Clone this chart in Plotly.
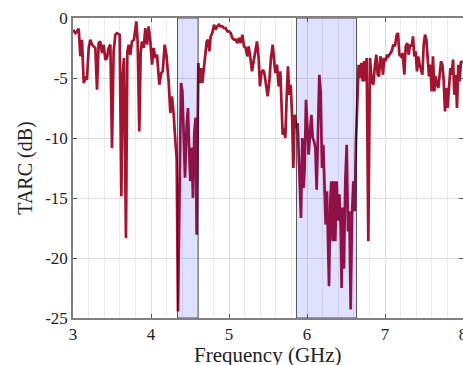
import plotly.graph_objects as go

freq = [
    3.000, 3.030, 3.051, 3.073, 3.094, 3.115, 3.137, 3.158, 3.179, 3.201,
    3.222, 3.244, 3.265, 3.286, 3.308, 3.329, 3.350, 3.372, 3.393, 3.415,
    3.436, 3.457, 3.479, 3.500, 3.521, 3.543, 3.564, 3.585, 3.598, 3.620,
    3.637, 3.654, 3.679, 3.697, 3.714, 3.735, 3.756, 3.782, 3.799, 3.812,
    3.829, 3.850, 3.868, 3.885, 3.906, 3.927, 3.949, 3.970, 3.991, 4.013,
    4.034, 4.056, 4.077, 4.107, 4.132, 4.150, 4.175, 4.197, 4.226, 4.248,
    4.269, 4.291, 4.312, 4.325,
    4.329, 4.346, 4.359, 4.385, 4.402, 4.419, 4.436, 4.457, 4.474, 4.491,
    4.504, 4.521, 4.538, 4.556, 4.573, 4.585, 4.598, 4.607, 4.624, 4.641,
    4.658, 4.675, 4.692, 4.714, 4.731, 4.748, 4.765, 4.786, 4.808, 4.829,
    4.850, 4.872, 4.893, 4.915, 4.936, 4.957, 4.979, 5.000, 5.021, 5.043,
    5.064, 5.086, 5.107, 5.128, 5.150, 5.171, 5.192, 5.214, 5.235, 5.252,
    5.274, 5.295, 5.316, 5.338, 5.359, 5.380, 5.397, 5.415, 5.436, 5.453,
    5.474, 5.496, 5.517, 5.538, 5.560,
    5.573, 5.594, 5.615, 5.637, 5.658, 5.671, 5.688, 5.705, 5.722, 5.739,
    5.756, 5.774, 5.791, 5.808, 5.825, 5.842, 5.863, 5.880, 5.897, 5.910,
    5.923, 5.940, 5.957, 5.970, 5.987, 6.004, 6.021, 6.038, 6.056, 6.073,
    6.090, 6.107, 6.124, 6.141, 6.158, 6.175, 6.192, 6.209, 6.226, 6.239,
    6.256, 6.269, 6.282, 6.299, 6.312, 6.329, 6.346, 6.363, 6.380, 6.397,
    6.415, 6.432, 6.444, 6.457, 6.474, 6.491, 6.509, 6.526, 6.543, 6.560,
    6.577, 6.594, 6.611, 6.628, 6.645, 6.662, 6.679, 6.697, 6.714, 6.731,
    6.748, 6.765,
    6.786, 6.808, 6.829, 6.850, 6.872, 6.889, 6.906, 6.923, 6.940, 6.957,
    6.974, 6.991, 7.008, 7.026, 7.043, 7.064, 7.085, 7.107, 7.128, 7.150,
    7.167, 7.184, 7.205, 7.226, 7.248, 7.265, 7.286, 7.303, 7.321, 7.342,
    7.359, 7.376, 7.393, 7.410, 7.427, 7.444, 7.462, 7.479, 7.496, 7.513,
    7.530, 7.547, 7.564, 7.581, 7.598, 7.615, 7.632, 7.650, 7.667, 7.684,
    7.701, 7.718, 7.735, 7.752, 7.769, 7.786, 7.803, 7.821, 7.838, 7.855,
    7.872, 7.889, 7.906, 7.923, 7.940, 7.957, 7.974, 7.996,
]

tarc_db = [
    -0.97, -1.26, -1.11, -0.89, -3.19, -1.81, -5.42, -5.00, -5.14, -2.50,
    -1.81, -2.22, -2.36, -2.50, -5.98, -2.09, -1.95, -2.92, -2.22, -3.48,
    -3.33, -2.50, -2.22, -10.84, -2.78, -1.39, -1.26, -1.39, -1.39, -14.86,
    -4.70, -3.33, -18.34, -2.78, -2.22, -3.06, -1.95, -1.81, -0.84, -0.28,
    -1.95, -9.45, -2.78, -1.95, -2.50, -0.84, -2.22, -0.70, -1.95, -3.89,
    -2.50, -3.33, -3.06, -5.56, -4.59, -4.45, -2.22, -3.06, -5.28, -7.92,
    -6.53, -8.06, -10.28, -11.53,
    -11.67, -24.45, -16.40, -5.42, -6.10, -10.30, -13.30, -8.90, -7.50, -11.40,
    -13.60, -10.80, -15.00, -9.45, -8.30, -18.06, -11.40, -3.75, -5.42, -4.17,
    -5.42, -4.45, -3.06, -1.95, -1.81, -2.78, -1.53, -1.25, -0.56, -0.97,
    -0.70, -0.56, -0.70, -0.70, -0.84, -0.84, -1.11, -1.11, -1.25, -1.67,
    -1.81, -1.81, -2.09, -1.67, -2.09, -1.39, -2.36, -2.50, -3.20, -2.36,
    -3.33, -4.45, -3.61, -2.78, -1.95, -3.33, -5.70, -4.59, -4.31, -4.59,
    -5.56, -6.53, -5.28, -3.33, -2.22,
    -3.33, -4.59, -3.89, -5.70, -4.45, -6.95, -9.73, -9.17, -10.00, -6.67,
    -4.03, -6.40, -5.56, -8.06, -12.50, -8.06, -9.17, -8.75, -11.67, -13.06,
    -16.67, -10.00, -14.17, -12.50, -6.81, -8.90, -11.39, -9.73, -8.06, -10.00,
    -10.28, -10.84, -14.31, -9.45, -4.73, -6.12, -12.50, -10.56, -14.17, -17.20,
    -14.45, -18.90, -22.36, -15.28, -13.60, -18.60, -13.60, -18.60, -13.60, -16.90,
    -14.70, -17.50, -22.50, -15.80, -20.90, -13.60, -10.56, -17.80, -16.10, -24.30,
    -16.40, -13.60, -16.10, -10.28, -6.67, -3.89, -5.00, -3.75, -5.28, -3.60,
    -5.28, -3.33,
    -18.60, -3.33, -5.28, -5.56, -3.89, -3.06, -4.73, -4.86, -3.20, -3.47,
    -4.73, -3.33, -3.61, -3.06, -3.20, -2.92, -2.78, -2.22, -2.36, -1.39,
    -1.25, -3.06, -3.20, -2.92, -4.73, -2.36, -2.09, -3.06, -2.22, -2.36,
    -1.53, -3.20, -2.78, -4.45, -3.20, -3.89, -4.31, -4.73, -2.22, -1.39,
    -1.81, -3.61, -4.86, -3.89, -6.12, -3.20, -6.12, -4.86, -5.56, -5.83,
    -4.59, -3.61, -3.89, -5.14, -7.78, -5.83, -7.50, -5.28, -4.17, -4.73,
    -3.47, -6.40, -4.73, -7.50, -3.89, -5.28, -3.61, -3.75,
]

band_start = [4.34, 5.865]
band_end = [4.605, 6.635]

x_ticks = [3, 4, 5, 6, 7, 8]
y_ticks = [-25, -20, -15, -10, -5, 0]
y_tick_text = ["-25", "-20", "-15", "-10", "-5", "0"]

x_title = "Frequency (GHz)"
y_title = "TARC (dB)"

line_color = "#A2142F"
font_family = "Liberation Serif"

fig = go.Figure()
fig.add_trace(go.Scatter(
    x=freq, y=tarc_db, mode="lines",
    line=dict(color=line_color, width=2.7),
    showlegend=False,
))

for s, e in zip(band_start, band_end):
    fig.add_shape(
        type="rect", xref="x", yref="y",
        x0=s, x1=e, y0=-25, y1=0,
        fillcolor="rgba(0,0,255,0.12)",
        line=dict(color="rgba(0,0,0,0.65)", width=1),
        layer="above",
    )

axis_common = dict(
    showline=True, linecolor="#808080", linewidth=1.5,
    mirror="ticks", ticks="inside", ticklen=4, tickcolor="#555555",
    tickwidth=1, showgrid=True, gridcolor="#dedede", gridwidth=1,
    zeroline=False, automargin=False, ticklabeloverflow="allow",
    tickfont=dict(family=font_family, size=17, color="#222222"),
)

fig.update_xaxes(
    range=[3, 8], tickvals=x_ticks,
    minor=dict(dtick=0.2, showgrid=True, gridcolor="#ececec", gridwidth=1, ticks=""),
    ticklabelstandoff=0,
    **axis_common,
)
fig.update_yaxes(
    range=[-25, 0], tickvals=y_ticks, ticktext=y_tick_text,
    title=dict(text=y_title, font=dict(family=font_family, size=20, color="#222222"), standoff=7),
    ticklabelstandoff=0,
    **axis_common,
)

# x-axis title placed as a paper annotation so its position can be set exactly
fig.add_annotation(
    text=x_title, xref="paper", yref="paper", x=0.5, y=-0.123,
    xanchor="center", yanchor="middle", showarrow=False,
    font=dict(family=font_family, size=21, color="#222222"),
)

fig.update_layout(
    width=463, height=365,
    margin=dict(l=73, r=0, t=18, b=47),
    paper_bgcolor="white", plot_bgcolor="white",
)

# remove the default page margin / scrollbars so the figure fills the window
fig.write_html(
    "out.html",
    config={"displayModeBar": False},
    post_script="document.body.style.margin='0';document.body.style.overflow='hidden';",
)
